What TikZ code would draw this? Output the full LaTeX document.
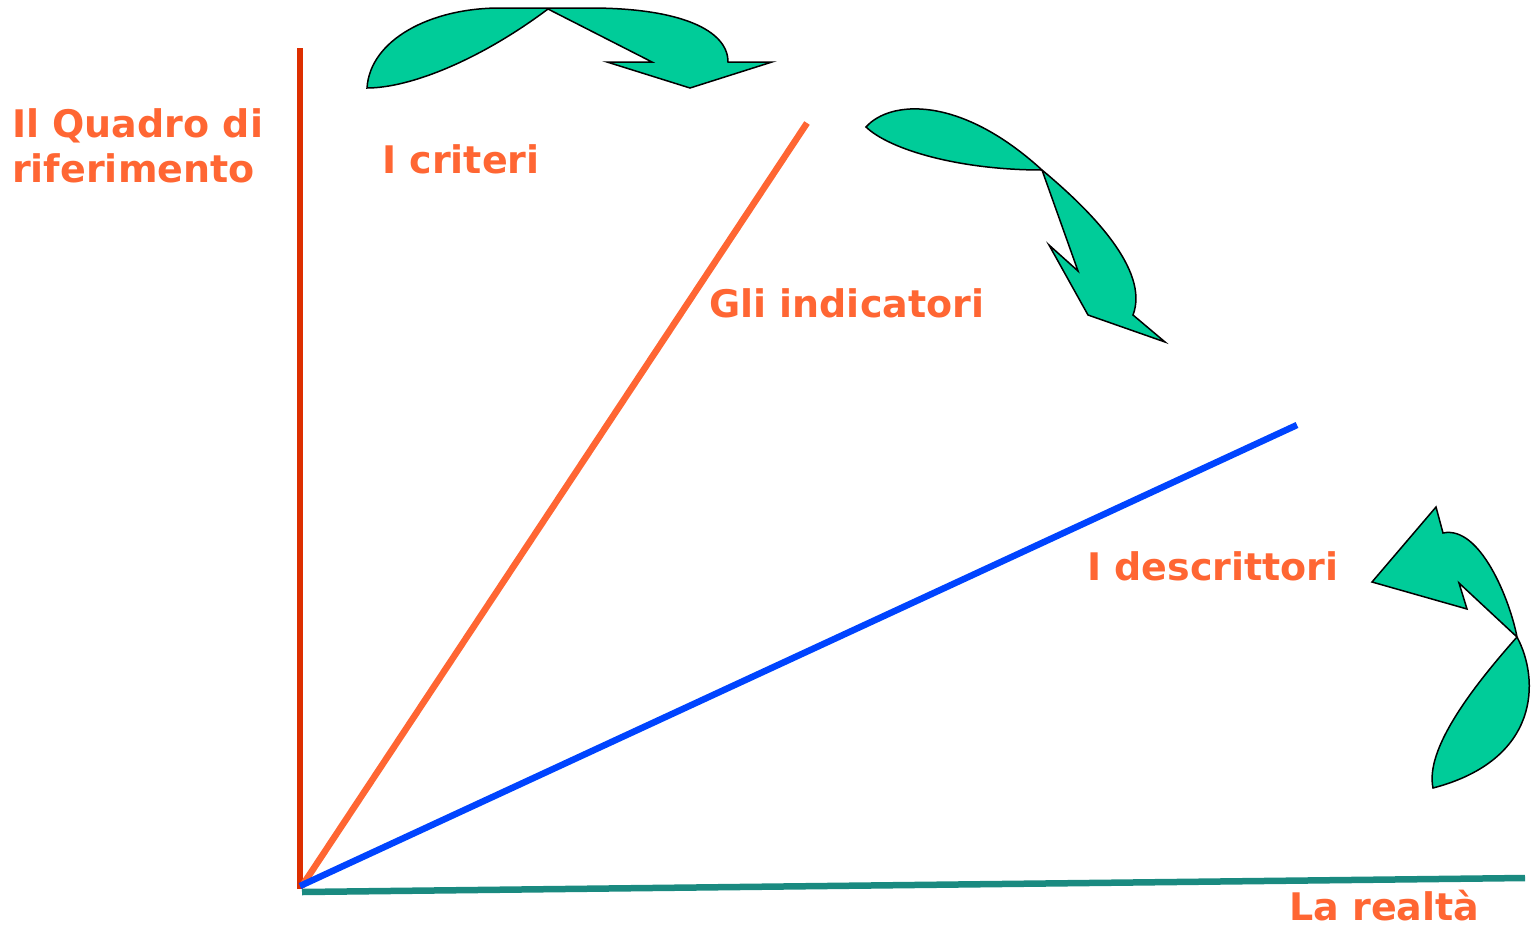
\documentclass[tikz,border=0pt]{standalone}
\usepackage{fontspec}
\setmainfont{DejaVu Sans}
\definecolor{lred}{HTML}{DD2E00}
\definecolor{lorange}{HTML}{FF6633}
\definecolor{lblue}{HTML}{0044FF}
\definecolor{lteal}{HTML}{1A8A80}
\definecolor{agreen}{HTML}{00CC99}
\begin{document}
\begin{tikzpicture}[x=1pt,y=-1pt,
  lbl/.style={anchor=base west,inner sep=0pt,text depth=0pt,text=lorange,font=\fontsize{38}{46}\selectfont\bfseries},
  axis/.style={line width=6.5pt},
  bentarrow/.style={fill=agreen,draw=black,line width=1.5pt,line join=miter}]
\useasboundingbox (0,0) rectangle (1534,927);
% endpoints
\coordinate (O) at (300,889);
\coordinate (Otop) at (300,48);
\coordinate (Oteal) at (302,892);
\coordinate (Eor) at (807,123);
\coordinate (Ebl) at (1297,425);
\coordinate (Eteal) at (1525,878);
\coordinate (Oor) at (302,886);
\coordinate (Obl) at (300,886);
% lines
\draw[axis,lred] (O) -- (Otop);
\draw[axis,lorange] (Oor) -- (Eor);
\draw[axis,lteal] (Oteal) -- (Eteal);
\draw[axis,lblue] (Obl) -- (Ebl);
% labels
\node[lbl] (q1) at (12,137) {Il Quadro di};
\node[lbl] (q2) at (12,182) {riferimento};
\node[lbl] (crit) at (382,173) {I criteri};
\node[lbl] (ind) at (709,317) {Gli indicatori};
\node[lbl] (desc) at (1087,580) {I descrittori};
\node[lbl] (real) at (1289,920) {La realtà};
% arrow 1
\draw[bentarrow] (367,88) .. controls (370,40) and (430,8) .. (500,8) -- (590,8)
  .. controls (680,8) and (728,30) .. (728,62) -- (772,62) -- (690,88) -- (607,62) -- (652,62)
  -- (548,9) .. controls (480,60) and (410,88) .. cycle;
% arrow 2
\draw[bentarrow] (866,127) .. controls (890,100) and (960,95) .. (1042,170)
  .. controls (1090,210) and (1150,270) .. (1133,315) -- (1165,342) -- (1088,315)
  -- (1049,245) -- (1078,271) -- (1042,170)
  .. controls (960,170) and (890,150) .. cycle;
% arrow 3
\draw[bentarrow] (1436,507) -- (1443,533) .. controls (1480,525) and (1510,600) .. (1517,637)
  .. controls (1540,680) and (1540,760) .. (1433,788)
  .. controls (1425,750) and (1470,690) .. (1517,637)
  -- (1459,583) -- (1467,609) -- (1372,582) -- cycle;
\end{tikzpicture}
\end{document}
